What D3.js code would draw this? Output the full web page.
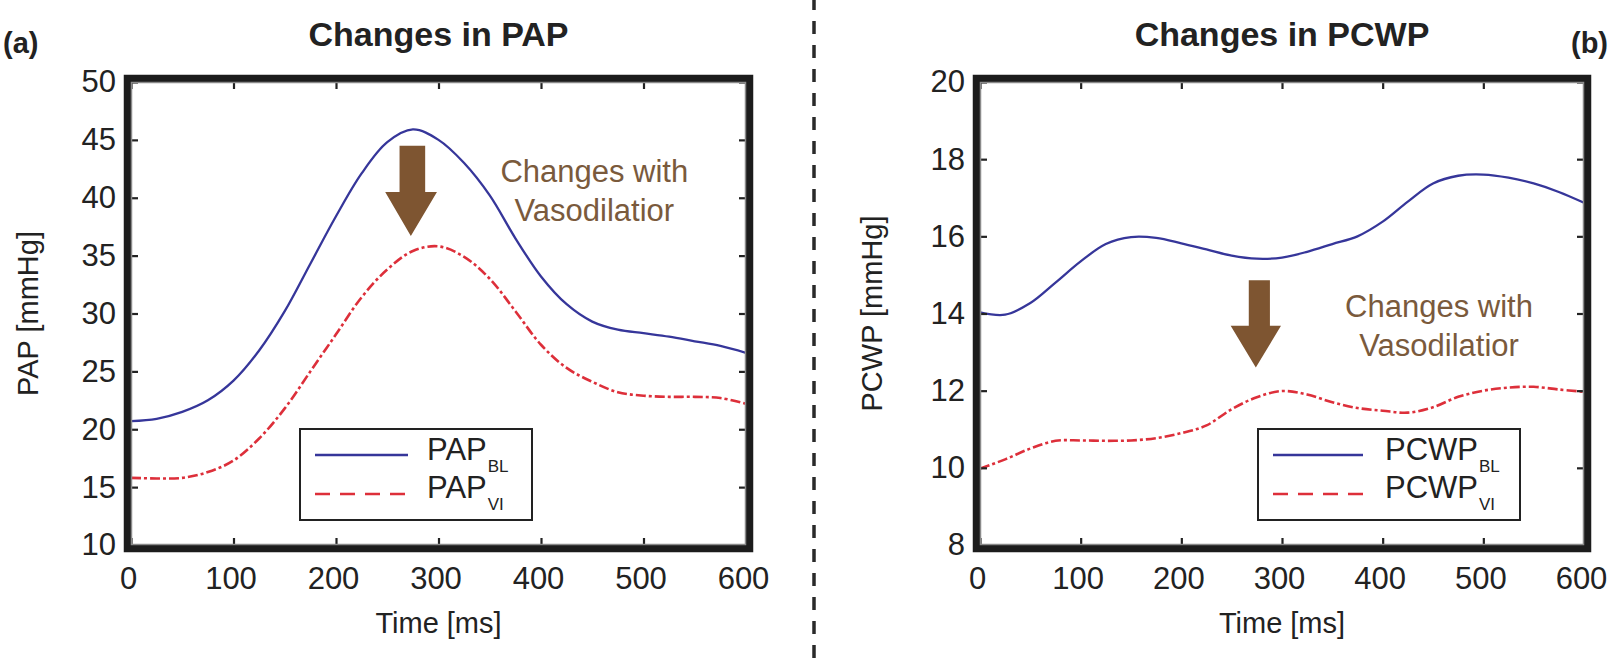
<!DOCTYPE html>
<html><head><meta charset="utf-8">
<script src="https://cdn.jsdelivr.net/npm/d3@7"></script>
<style>
html,body{margin:0;padding:0;background:#fff;}
svg text{font-family:"Liberation Sans",Arial,Helvetica,sans-serif;}
</style></head><body>
<svg id="chart" width="1618" height="660"></svg>
<script>
// ---------- data ----------
const timeMs = [0,25,50,75,100,125,150,175,200,225,250,275,300,325,350,375,400,425,450,475,500,525,550,575,600];
const papBL  = [20.7,20.9,21.5,22.5,24.2,26.8,30.2,34.3,38.4,42.1,44.8,45.9,45.0,43.0,40.2,36.5,33.2,30.8,29.3,28.6,28.3,28.0,27.6,27.2,26.6];
const papVI  = [15.8,15.75,15.8,16.3,17.3,19.2,21.8,25.0,28.2,31.4,33.8,35.4,35.8,34.9,33.0,30.2,27.3,25.3,24.1,23.2,22.9,22.8,22.8,22.7,22.2];
const pcwpBL = [14.03,13.97,14.27,14.8,15.35,15.8,15.98,15.96,15.82,15.66,15.5,15.42,15.45,15.6,15.8,16.0,16.38,16.9,17.37,17.57,17.6,17.52,17.37,17.15,16.87];
const pcwpVI = [9.98,10.22,10.5,10.7,10.71,10.7,10.71,10.77,10.9,11.1,11.52,11.83,11.99,11.9,11.7,11.55,11.48,11.43,11.57,11.84,12.0,12.08,12.1,12.03,11.97];
const timeTicks = [0,100,200,300,400,500,600];
const papTicks  = [10,15,20,25,30,35,40,45,50];
const pcwpTicks = [8,10,12,14,16,18,20];
const titles = ["Changes in PAP","Changes in PCWP"];
const panelTags = ["(a)","(b)"];
const yLabels = ["PAP [mmHg]","PCWP [mmHg]"];
const xLabel = "Time [ms]";
const legendBase = ["PAP","PCWP"];
const legendSubs = ["BL","VI"];
const noteLines = ["Changes with","Vasodilatior"];

// ---------- styles ----------
const BLUE = "#36369a", RED = "#dd2f3a", BROWN = "#7e5531", NOTE = "#7a5a3c", INK = "#1c1c1c";

const svg = d3.select("#chart");

// separator
svg.append("line").attr("x1",814).attr("x2",814).attr("y1",0).attr("y2",660)
  .attr("stroke","#2a2a2a").attr("stroke-width",3.5).attr("stroke-dasharray","13,11").attr("stroke-dashoffset",3);

function panel(cfg){
  const x = d3.scaleLinear().domain([0,600]).range([cfg.left,cfg.right]);
  const y = d3.scaleLinear().domain([cfg.ticks[0], cfg.ticks[cfg.ticks.length-1]]).range([cfg.bottom,cfg.top]);
  const g = svg.append("g");
  const clipId = "clip"+cfg.idx;
  g.append("clipPath").attr("id",clipId).append("rect")
    .attr("x",cfg.left).attr("y",cfg.top).attr("width",cfg.right-cfg.left).attr("height",cfg.bottom-cfg.top);

  const line = d3.line().x((d,i)=>x(timeMs[i])).y(d=>y(d)).curve(d3.curveCatmullRom.alpha(0.5));
  g.append("path").datum(cfg.vi).attr("d",line).attr("fill","none").attr("stroke",RED)
    .attr("stroke-width",2.6).attr("stroke-dasharray","10,3,3,3").attr("clip-path",`url(#${clipId})`);
  g.append("path").datum(cfg.bl).attr("d",line).attr("fill","none").attr("stroke",BLUE)
    .attr("stroke-width",2.3).attr("clip-path",`url(#${clipId})`);

  // axes
  const fs = 31;
  const ax = g.append("g").attr("transform",`translate(0,${cfg.bottom})`)
    .call(d3.axisBottom(x).tickValues(timeTicks).tickSizeInner(-7).tickSizeOuter(0).tickPadding(22).tickFormat(d3.format("d")));
  ax.selectAll("text").attr("font-size",fs).attr("fill","#222").attr("dx",-3).attr("dy","0.72em");
  g.append("g").attr("transform",`translate(0,${cfg.top})`)
    .call(d3.axisTop(x).tickValues(timeTicks).tickSizeInner(-7).tickSizeOuter(0).tickFormat(""));
  const ay = g.append("g").attr("transform",`translate(${cfg.left},0)`)
    .call(d3.axisLeft(y).tickValues(cfg.ticks).tickSizeInner(-7).tickSizeOuter(0).tickPadding(15).tickFormat(d3.format("d")));
  ay.selectAll("text").attr("font-size",fs).attr("fill","#222");
  g.append("g").attr("transform",`translate(${cfg.right},0)`)
    .call(d3.axisRight(y).tickValues(cfg.ticks).tickSizeInner(-7).tickSizeOuter(0).tickFormat(""));
  g.selectAll(".domain").remove();
  g.selectAll(".tick line").attr("stroke","#222").attr("stroke-width",2.2);

  // frame
  g.append("rect").attr("x",cfg.left-3.5).attr("y",cfg.top-3.5)
    .attr("width",cfg.right-cfg.left+7).attr("height",cfg.bottom-cfg.top+7)
    .attr("fill","none").attr("stroke",INK).attr("stroke-width",7.5);
  g.append("rect").attr("x",cfg.left+0.5).attr("y",cfg.top+0.5)
    .attr("width",cfg.right-cfg.left-1).attr("height",cfg.bottom-cfg.top-1)
    .attr("fill","none").attr("stroke","#8a8a8a").attr("stroke-width",1.5);

  // axis labels
  g.append("text").attr("x",(cfg.left+cfg.right)/2).attr("y",633).attr("text-anchor","middle")
    .attr("font-size",29).attr("fill","#222").text(xLabel);
  g.append("text").attr("transform",`translate(${cfg.yLabX},${(cfg.top+cfg.bottom)/2}) rotate(-90)`)
    .attr("text-anchor","middle").attr("dy","0.36em").attr("font-size",29).attr("fill","#222").text(cfg.yLabel);

  // title
  g.append("text").attr("x",(cfg.left+cfg.right)/2).attr("y",46).attr("text-anchor","middle")
    .attr("font-size",34).attr("font-weight","bold").attr("fill","#222").text(cfg.title);

  // arrow (data coords)
  const a = cfg.arrow;
  const pts = [[a.s0,a.top],[a.s1,a.top],[a.s1,a.base],[a.h1,a.base],[a.tipT,a.tip],[a.h0,a.base],[a.s0,a.base]];
  g.append("path").attr("d","M"+pts.map(p=>x(p[0])+","+y(p[1])).join("L")+"Z").attr("fill",BROWN);

  // note
  noteLines.forEach((t,i)=>{
    g.append("text").attr("x",x(cfg.note.t)).attr("y",y(cfg.note.v[i])).attr("text-anchor","middle")
      .attr("font-size",31).attr("fill",NOTE).text(t);
  });

  // legend
  const L = cfg.legend;
  g.append("rect").attr("x",L.x).attr("y",429).attr("width",L.w).attr("height",91)
    .attr("fill","#fff").attr("stroke","#222").attr("stroke-width",2);
  g.append("line").attr("x1",L.x+15).attr("x2",L.x+15+L.lineW).attr("y1",455).attr("y2",455)
    .attr("stroke",BLUE).attr("stroke-width",2.3);
  g.append("line").attr("x1",L.x+15).attr("x2",L.x+15+L.lineW).attr("y1",494).attr("y2",494)
    .attr("stroke",RED).attr("stroke-width",2.6).attr("stroke-dasharray","15,10");
  [460,498].forEach((by,i)=>{
    const tx = g.append("text").attr("x",L.x+L.textOff).attr("y",by).attr("font-size",31).attr("fill","#222");
    tx.append("tspan").text(cfg.legendBase);
    tx.append("tspan").attr("dy",12).attr("dx",1).attr("font-size",17).text(legendSubs[i]);
  });
}

panel({idx:0,left:131,right:746,top:82,bottom:545,ticks:papTicks,bl:papBL,vi:papVI,
  title:titles[0],yLabel:yLabels[0],yLabX:28,legendBase:legendBase[0],
  arrow:{s0:262,s1:287,h0:248,h1:298.5,tipT:273,top:44.5,base:40.5,tip:36.7},
  note:{t:452,v:[41.4,38.0]},
  legend:{x:300,w:232,lineW:93,textOff:127}});
panel({idx:1,left:980,right:1584,top:82,bottom:545,ticks:pcwpTicks,bl:pcwpBL,vi:pcwpVI,
  title:titles[1],yLabel:yLabels[1],yLabX:872,legendBase:legendBase[1],
  arrow:{s0:267,s1:288,h0:249,h1:299,tipT:274,top:14.86,base:13.68,tip:12.6},
  note:{t:456,v:[13.9,12.91]},
  legend:{x:1258,w:262,lineW:90,textOff:127}});

svg.append("text").attr("x",3).attr("y",53).attr("font-size",29).attr("font-weight","bold").attr("fill","#222").text(panelTags[0]);
svg.append("text").attr("x",1608).attr("y",53).attr("text-anchor","end").attr("font-size",29).attr("font-weight","bold").attr("fill","#222").text(panelTags[1]);
</script>
</body></html>
